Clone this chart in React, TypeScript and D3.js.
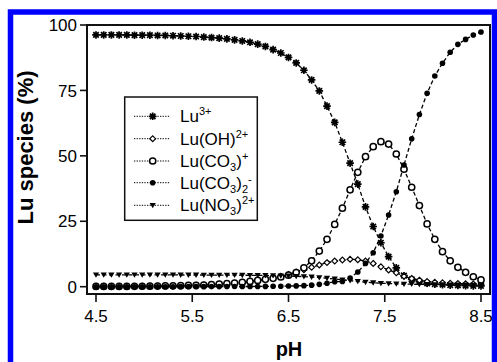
import React from 'react';
import * as d3 from 'd3';

const pH = [4.50,4.58,4.66,4.74,4.82,4.90,4.98,5.06,5.14,5.22,5.30,5.38,5.46,5.54,5.62,5.70,5.78,5.86,5.94,6.02,6.10,6.18,6.26,6.34,6.42,6.50,6.58,6.66,6.74,6.82,6.90,6.98,7.06,7.14,7.22,7.30,7.38,7.46,7.54,7.62,7.70,7.78,7.86,7.94,8.02,8.10,8.18,8.26,8.34,8.42,8.50];

const lu3 = [96.2,96.2,96.2,96.2,96.2,96.1,96.1,96.1,96.0,96.0,95.9,
  95.8,95.7,95.6,95.4,95.2,95.0,94.7,94.3,93.9,93.4,
  92.7,91.8,90.6,89.3,87.6,85.5,82.7,79.0,74.8,69.0,
  62.8,55.2,47.2,39.2,30.5,23.0,16.8,11.5,7.2,4.2,
  2.8,1.9,1.3,1.0,0.8,0.6,0.5,0.4,0.3,0.3];

const luOH = [0.05,0.06,0.07,0.08,0.1,0.12,0.14,0.17,0.2,0.25,0.3,
  0.36,0.43,0.52,0.63,0.76,0.92,1.1,1.35,1.65,2.0,
  2.4,2.9,3.4,4.0,4.7,5.6,6.5,7.4,8.3,9.2,
  9.8,10.2,10.5,10.3,9.8,8.9,7.6,6.4,5.3,4.0,
  3.1,2.5,2.0,1.7,1.5,1.3,1.2,1.1,1.0,0.9];

const luCO3 = [0.1,0.1,0.1,0.1,0.12,0.14,0.17,0.2,0.24,0.28,0.33,
  0.4,0.47,0.55,0.65,0.78,0.95,1.15,1.4,1.7,2.0,
  2.4,2.8,3.2,3.7,4.4,5.4,7.2,9.9,13.6,18.1,
  23.8,30.0,37.0,43.7,49.7,53.5,55.4,54.5,50.7,44.9,
  38.0,31.0,24.0,18.1,13.4,9.9,7.4,5.5,3.8,2.6];

const luCO3_2 = [0,0,0,0,0,0,0,0,0,0,0,
  0.01,0.01,0.02,0.02,0.03,0.04,0.05,0.06,0.07,0.08,
  0.1,0.12,0.15,0.2,0.25,0.3,0.4,0.6,0.9,1.3,
  1.9,2.0,3.3,5.6,8.9,13.0,19.4,27.4,36.3,46.5,
  56.5,65.8,73.9,80.5,85.4,89.6,92.6,94.5,96.2,97.3];

const luNO3 = [4.5,4.5,4.5,4.5,4.5,4.5,4.5,4.5,4.5,4.5,4.49,
  4.48,4.47,4.47,4.46,4.45,4.44,4.42,4.4,4.38,4.35,
  4.32,4.28,4.22,4.16,4.08,3.98,3.85,3.7,3.5,3.23,
  2.94,2.6,2.3,2.0,1.7,1.5,1.3,1.2,1.1,1.0,
  0.95,0.9,0.85,0.8,0.75,0.7,0.7,0.65,0.6,0.6];

const xTicks = [4.5, 5.5, 6.5, 7.5, 8.5];
const yTicks = [0, 25, 50, 75, 100];

const series = [
  { key: 'lu3', values: lu3, marker: 'star' },
  { key: 'luOH', values: luOH, marker: 'diamond' },
  { key: 'luCO3', values: luCO3, marker: 'circle' },
  { key: 'luCO3_2', values: luCO3_2, marker: 'dot' },
  { key: 'luNO3', values: luNO3, marker: 'tri' },
];

const W = 497, H = 362;
const FL = 87, FT = 25, FR = 490, FB = 294;
const x = d3.scaleLinear().domain([4.5, 8.5]).range([96, 481]);
const y = d3.scaleLinear().domain([0, 100]).range([286.7, 25]);
const FONT = '"Liberation Sans", Arial, Helvetica, sans-serif';

function Marker({ type, cx, cy }: { type: string; cx: number; cy: number }) {
  if (type === 'star') {
    const r = 3.8, d = r * 0.72;
    const p = d3.path();
    p.moveTo(cx, cy - r); p.lineTo(cx, cy + r);
    p.moveTo(cx - r, cy); p.lineTo(cx + r, cy);
    p.moveTo(cx - d, cy - d); p.lineTo(cx + d, cy + d);
    p.moveTo(cx - d, cy + d); p.lineTo(cx + d, cy - d);
    return <path d={p.toString()} stroke="#000" strokeWidth={1.7} fill="none" />;
  }
  if (type === 'diamond') {
    const s = 2.9;
    return <polygon points={`${cx},${cy - s} ${cx + s},${cy} ${cx},${cy + s} ${cx - s},${cy}`} fill="#fff" stroke="#000" strokeWidth={1.2} />;
  }
  if (type === 'circle') {
    return <circle cx={cx} cy={cy} r={3.1} fill="#fff" stroke="#000" strokeWidth={1.5} />;
  }
  if (type === 'dot') {
    return <circle cx={cx} cy={cy} r={2.8} fill="#000" />;
  }
  return <polygon points={`${cx - 3.1},${cy - 2.4} ${cx + 3.1},${cy - 2.4} ${cx},${cy + 2.9}`} fill="#000" />;
}

const legendRows = [116.3, 138.7, 161, 182.7, 205.3];

function LegendLabel({ i, yb }: { i: number; yb: number }) {
  const sup = { fontSize: 11 };
  const common = { x: 180, y: yb, fontFamily: FONT, fontSize: 17, fill: '#000' };
  if (i === 0) return <text {...common}>Lu<tspan dy={-7} style={sup}>3+</tspan></text>;
  if (i === 1) return <text {...common}>Lu(OH)<tspan dy={-7} style={sup}>2+</tspan></text>;
  if (i === 2) return <text {...common}>Lu(CO<tspan dy={4} style={sup}>3</tspan><tspan dy={-4}>)</tspan><tspan dy={-7} style={sup}>+</tspan></text>;
  if (i === 3) return <text {...common}>Lu(CO<tspan dy={4} style={sup}>3</tspan><tspan dy={-4}>)</tspan><tspan dy={4} style={sup}>2</tspan><tspan dy={-10} style={sup}>-</tspan></text>;
  return <text {...common}>Lu(NO<tspan dy={4} style={sup}>3</tspan><tspan dy={-4}>)</tspan><tspan dy={-7} style={sup}>2+</tspan></text>;
}

export default function App() {
  const line = d3.line<number>().x((_, i) => x(pH[i])).y((v) => y(v));
  return (
    <svg width={W} height={H} style={{ position: 'absolute', left: 0, top: 0, background: '#fff' }}>
      <rect x={0} y={0} width={W} height={H} fill="#fff" />
      <rect x={10.5} y={12} width={484} height={400} fill="none" stroke="#0000ff" strokeWidth={5.5} />
      {series.map((s) => (
        <path key={s.key + 'l'} d={line(s.values) || ''} fill="none" stroke="#000" strokeWidth={1.3} strokeDasharray="4,2.5" />
      ))}
      {series.map((s) => (
        <g key={s.key + 'm'}>
          {s.values.map((v, i) => (
            <Marker key={i} type={s.marker} cx={x(pH[i])} cy={y(v)} />
          ))}
        </g>
      ))}
      <rect x={FL} y={FT} width={FR - FL} height={FB - FT} fill="none" stroke="#111" strokeWidth={2} />
      {yTicks.map((t) => (
        <g key={'y' + t}>
          <line x1={FL - 7} x2={FL} y1={y(t)} y2={y(t)} stroke="#111" strokeWidth={1.6} />
          <text x={77} y={y(t)} dy="0.36em" textAnchor="end" fontFamily={FONT} fontSize={17}>{t}</text>
        </g>
      ))}
      {xTicks.map((t) => (
        <g key={'x' + t}>
          <line x1={x(t)} x2={x(t)} y1={FB} y2={FB + 8} stroke="#111" strokeWidth={1.6} />
          <text x={x(t)} y={322} textAnchor="middle" fontFamily={FONT} fontSize={17}>{t.toFixed(1)}</text>
        </g>
      ))}
      <text x={289} y={356} textAnchor="middle" fontFamily={FONT} fontSize={20} fontWeight="bold">pH</text>
      <text transform="translate(33,147.5) rotate(-90)" textAnchor="middle" fontFamily={FONT} fontSize={22} fontWeight="bold">Lu species (%)</text>
      <rect x={124.7} y={97} width={132.6} height={123.3} fill="#fff" stroke="#111" strokeWidth={1.5} />
      {series.map((s, i) => (
        <g key={s.key + 'g'}>
          <line x1={134} x2={170} y1={legendRows[i]} y2={legendRows[i]} stroke="#000" strokeWidth={1} strokeDasharray="1.3,1.3" />
          <Marker type={s.marker} cx={152.7} cy={legendRows[i]} />
          <LegendLabel i={i} yb={legendRows[i] + 6} />
        </g>
      ))}
    </svg>
  );
}
